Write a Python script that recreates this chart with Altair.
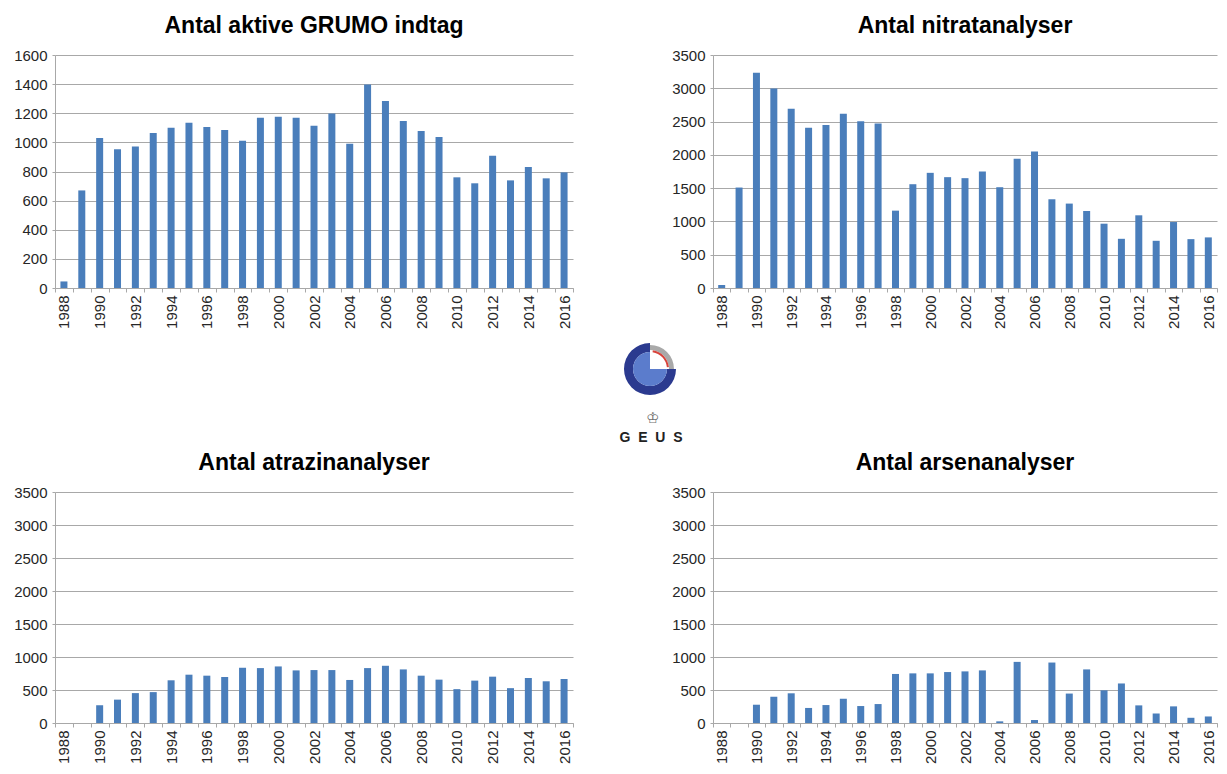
import math
import altair as alt
import pandas as pd

# ---- data ----
years = list(range(1988, 2017))
grumo = [45, 670, 1030, 952, 972, 1064, 1101, 1135, 1105, 1085, 1011, 1169, 1176, 1169,
         1114, 1199, 991, 1398, 1284, 1146, 1078, 1037, 760, 719, 908, 739, 831, 753, 794]
nitrat = [45, 1509, 3234, 2998, 2691, 2409, 2450, 2616, 2505, 2470, 1162, 1559, 1730, 1665,
          1650, 1750, 1514, 1942, 2052, 1333, 1268, 1157, 966, 739, 1092, 709, 991, 734, 760]
atrazin = [0, 0, 269, 354, 453, 468, 647, 732, 717, 697, 837, 832, 857, 797,
           802, 802, 652, 832, 867, 812, 717, 657, 513, 642, 702, 528, 682, 632, 667]
arsen = [0, 0, 277, 396, 450, 228, 272, 366, 257, 287, 743, 752, 752, 772,
         782, 797, 25, 926, 45, 916, 446, 812, 495, 599, 267, 144, 252, 79, 99]

titles = ["Antal aktive GRUMO indtag", "Antal nitratanalyser",
          "Antal atrazinanalyser", "Antal arsenanalyser"]

FONT = "Liberation Sans"
BLUE = "#4a7ebb"
GRID = "#a8a8a8"
TEXT = "#262626"


def panel(values, title, ymax, step, w, h):
    df = pd.DataFrame({"year": years, "value": values})
    bars = alt.Chart(df).mark_bar(size=7, color=BLUE).encode(
        x=alt.X("year:O", title=None,
                scale=alt.Scale(paddingInner=0, paddingOuter=0),
                axis=alt.Axis(labelAngle=270, labelOverlap=False,
                              labelExpr="datum.value % 2 == 0 ? datum.label : ''",
                              tickBand="extent", tickSize=4, tickColor=GRID,
                              domainColor=GRID, labelPadding=3, grid=False)),
        y=alt.Y("value:Q", title=None,
                scale=alt.Scale(domain=[0, ymax], nice=False),
                axis=alt.Axis(values=list(range(0, ymax + 1, step)), format="d",
                              grid=True, gridColor=GRID, domainColor=GRID,
                              tickColor=GRID, tickSize=3, labelPadding=5)),
    )
    return bars, dict(width=w, height=h,
                      title=alt.TitleParams(title, fontSize=23, fontWeight="bold", font=FONT,
                                            anchor="middle", frame="group", offset=10,
                                            color="black"))


one = pd.DataFrame({"k": [0]})
CX, CY = 595, 314
logo = [
    alt.Chart(one).mark_arc(radius=26, radius2=17, theta=math.pi / 2, theta2=2 * math.pi,
                            color="#2b3a8f").encode(x=alt.value(CX), y=alt.value(CY)),
    alt.Chart(one).mark_arc(radius=17, radius2=0, theta=math.pi / 2, theta2=2 * math.pi,
                            color="#5b7ccc").encode(x=alt.value(CX), y=alt.value(CY)),
    alt.Chart(one).mark_arc(radius=24, radius2=19, theta=0, theta2=math.pi / 2,
                            color="#a9a9a9").encode(x=alt.value(CX), y=alt.value(CY)),
    alt.Chart(one).mark_arc(radius=19, radius2=17, theta=0.15, theta2=math.pi / 2 - 0.1,
                            color="#d8433b").encode(x=alt.value(CX), y=alt.value(CY)),
    alt.Chart(one).mark_text(text="\u2654", fontSize=15, color="#6f6f6f", font="DejaVu Sans").encode(
        x=alt.value(CX + 3), y=alt.value(CY + 49)),
    alt.Chart(one).mark_text(text="G\u00a0\u00a0E\u00a0\u00a0U\u00a0\u00a0S", fontSize=14,
                             fontWeight="bold", color="#222222", font=FONT).encode(
        x=alt.value(CX + 1), y=alt.value(CY + 69)),
]

b1, p1 = panel(grumo, titles[0], 1600, 200, 518, 233)
b2, p2 = panel(nitrat, titles[1], 3500, 500, 504, 233)
b3, p3 = panel(atrazin, titles[2], 3500, 500, 518, 231)
b4, p4 = panel(arsen, titles[3], 3500, 500, 504, 231)

c1 = alt.layer(b1, *logo).properties(**p1)
c2 = b2.properties(**p2)
c3 = b3.properties(**p3)
c4 = b4.properties(**p4)

chart = alt.concat(c1, c2, c3, c4, columns=2,
                   spacing=alt.RowColnumber(row=204, column=140),
                   bounds="flush").properties(
    padding={"left": 5, "top": 7, "right": 0, "bottom": 0}
).configure_view(strokeOpacity=0).configure_axis(
    labelFont=FONT, labelFontSize=15, labelColor=TEXT
)

chart.save("out.html", embed_options={"renderer": "svg", "actions": False})
